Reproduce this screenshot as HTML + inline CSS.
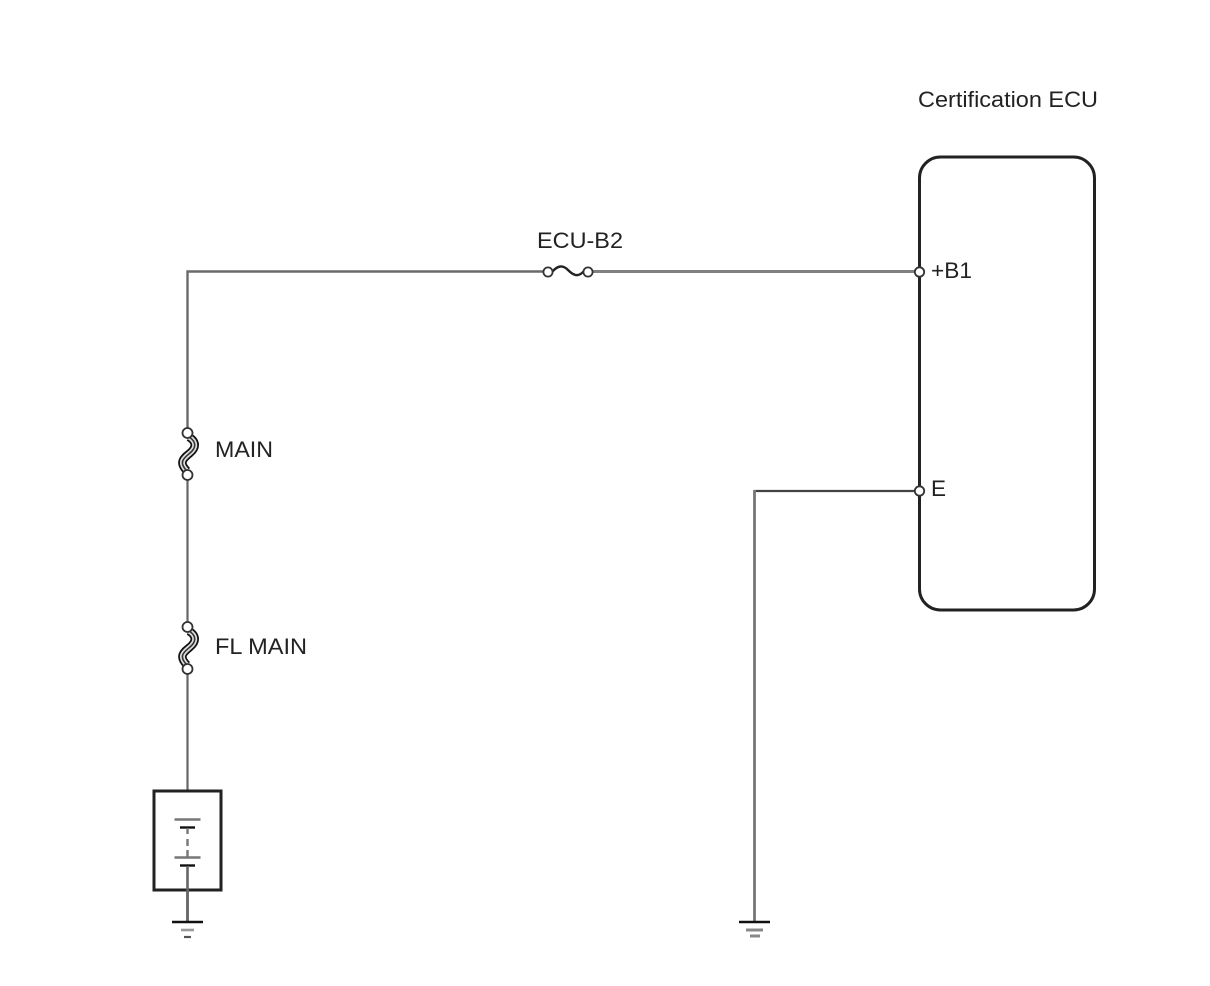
<!DOCTYPE html>
<html>
<head>
<meta charset="utf-8">
<style>
html,body{margin:0;padding:0;background:#fff;}
svg{display:block;}
text{font-family:"Liberation Sans",sans-serif;font-size:22.5px;fill:#222;}
</style>
</head>
<body>
<svg width="1210" height="986" viewBox="0 0 1210 986" xmlns="http://www.w3.org/2000/svg">
<rect width="1210" height="986" fill="#fff"/>
<!-- wires -->
<g fill="none" stroke="#666" stroke-width="2.200">
<path d="M187.500 433V271.500H548" stroke="#6a6a6a" stroke-width="2.400"/>
<path d="M588 271.500H919" stroke="#808080" stroke-width="3"/>
<path d="M187.500 475V627"/>
<path d="M187.500 669V791"/>
<path d="M919 491H754.500" stroke="#444" stroke-width="2.200"/>
<path d="M754.500 490V921" stroke="#777" stroke-width="2.800"/>
<path d="M187.500 791V921" stroke="#666" stroke-width="2.600"/>
</g>
<!-- ECU box -->
<rect x="919.500" y="157" width="175" height="453" rx="21" ry="21" fill="none" stroke="#222" stroke-width="3"/>
<!-- ECU-B2 fuse -->
<path d="M552 272C558 265 563 265 568 270C573 275 578 278 584 271" fill="none" stroke="#222" stroke-width="2.400"/>
<circle cx="548" cy="272" r="4.600" fill="#fff" stroke="#333" stroke-width="1.800"/>
<circle cx="588" cy="272" r="4.600" fill="#fff" stroke="#333" stroke-width="1.800"/>
<!-- MAIN fuse -->
<g fill="none">
<path d="M189 437C197 442 196 448 190 453C184 458 178 462 187 471" stroke="#111" stroke-width="8.500"/>
<path d="M189 437C197 442 196 448 190 453C184 458 178 462 187 471" stroke="#ddd" stroke-width="5"/>
<path d="M189 437C197 442 196 448 190 453C184 458 178 462 187 471" stroke="#333" stroke-width="1.600"/>
</g>
<circle cx="187.500" cy="433" r="5" fill="#fff" stroke="#333" stroke-width="1.800"/>
<circle cx="187.500" cy="475" r="5" fill="#fff" stroke="#333" stroke-width="1.800"/>
<!-- FL MAIN fuse -->
<g fill="none">
<path d="M189 631C197 636 196 642 190 647C184 652 178 656 187 665" stroke="#111" stroke-width="8.500"/>
<path d="M189 631C197 636 196 642 190 647C184 652 178 656 187 665" stroke="#ddd" stroke-width="5"/>
<path d="M189 631C197 636 196 642 190 647C184 652 178 656 187 665" stroke="#333" stroke-width="1.600"/>
</g>
<circle cx="187.500" cy="627" r="5" fill="#fff" stroke="#333" stroke-width="1.800"/>
<circle cx="187.500" cy="669" r="5" fill="#fff" stroke="#333" stroke-width="1.800"/>
<!-- Battery -->
<rect x="154" y="791" width="67" height="99" fill="#fff" stroke="#222" stroke-width="3"/>
<g fill="none">
<path d="M174.500 819.500H200.500" stroke="#777" stroke-width="2.400"/>
<path d="M180 827.500H195" stroke="#111" stroke-width="2.400"/>
<path d="M187.500 828V834M187.500 839V846M187.500 850V857" stroke="#777" stroke-width="2.400"/>
<path d="M174.500 857.500H200.500" stroke="#777" stroke-width="2.400"/>
<path d="M180 865.500H195" stroke="#111" stroke-width="2.400"/>
<path d="M187.500 866V921" stroke="#666" stroke-width="2.600"/>
</g>
<!-- Ground 1 -->
<g fill="none">
<path d="M172 922H203" stroke="#111" stroke-width="2.600"/>
<path d="M181 930H194" stroke="#999" stroke-width="2.600"/>
<path d="M184 937H191" stroke="#555" stroke-width="2.200"/>
</g>
<!-- Ground 2 -->
<g fill="none">
<path d="M739 922H770" stroke="#111" stroke-width="2.600"/>
<path d="M746 930H763" stroke="#888" stroke-width="3"/>
<path d="M750 936H760" stroke="#888" stroke-width="3"/>
</g>
<!-- Terminals -->
<circle cx="919.500" cy="272" r="4.700" fill="#fff" stroke="#333" stroke-width="1.800"/>
<circle cx="919.500" cy="491" r="4.700" fill="#fff" stroke="#333" stroke-width="1.800"/>
<!-- Labels -->
<text x="918" y="107" textLength="180" lengthAdjust="spacingAndGlyphs">Certification ECU</text>
<text x="537" y="248" textLength="86" lengthAdjust="spacingAndGlyphs">ECU-B2</text>
<text x="931" y="278" textLength="41" lengthAdjust="spacingAndGlyphs">+B1</text>
<text x="931" y="496">E</text>
<text x="215" y="457" textLength="58" lengthAdjust="spacingAndGlyphs">MAIN</text>
<text x="215" y="654" textLength="92" lengthAdjust="spacingAndGlyphs">FL MAIN</text>
</svg>
</body>
</html>
